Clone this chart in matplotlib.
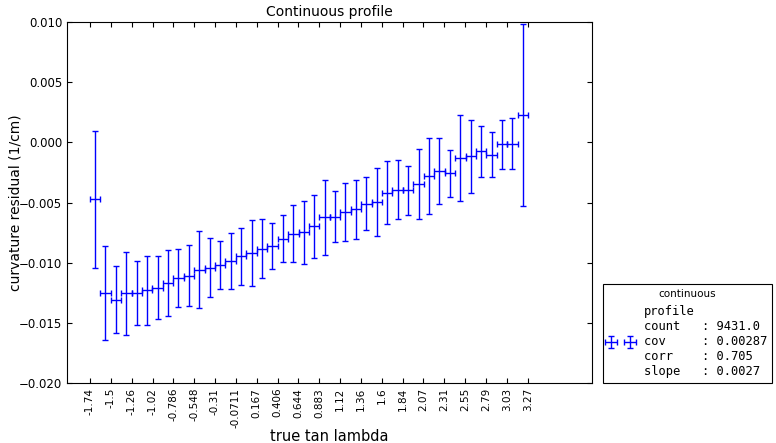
"""Continuous profile of curvature residual versus true tan lambda."""

import matplotlib
matplotlib.use("Agg")
import matplotlib.pyplot as plt
import numpy as np

# bin edges shown as tick labels (every other edge of 42 bins)
tick_labels = ["-1.74", "-1.5", "-1.26", "-1.02", "-0.786", "-0.548", "-0.31",
               "-0.0711", "0.167", "0.406", "0.644", "0.883", "1.12", "1.36",
               "1.6", "1.84", "2.07", "2.31", "2.55", "2.79", "3.03", "3.27"]
n_bins = 42

# profile means per bin (1/cm)
residual_mean = [-0.00475, -0.01251, -0.01307, -0.01255, -0.01251, -0.01230,
                 -0.01207, -0.01168, -0.01130, -0.01107, -0.01058, -0.01041,
                 -0.01018, -0.00988, -0.00947, -0.00916, -0.00885, -0.00864,
                 -0.00800, -0.00758, -0.00747, -0.00697, -0.00622, -0.00617,
                 -0.00577, -0.00558, -0.00511, -0.00494, -0.00417, -0.00394,
                 -0.00400, -0.00344, -0.00281, -0.00240, -0.00259, -0.00132,
                 -0.00117, -0.00076, -0.00103, -0.00015, -0.00010, 0.00226]

# profile spread per bin (1/cm)
residual_err = [0.00570, 0.00392, 0.00278, 0.00346, 0.00264, 0.00287,
                0.00262, 0.00275, 0.00240, 0.00253, 0.00322, 0.00242,
                0.00197, 0.00233, 0.00237, 0.00274, 0.00244, 0.00192,
                0.00193, 0.00239, 0.00262, 0.00261, 0.00312, 0.00215,
                0.00240, 0.00249, 0.00219, 0.00283, 0.00261, 0.00245,
                0.00202, 0.00289, 0.00316, 0.00272, 0.00193, 0.00356,
                0.00302, 0.00213, 0.00189, 0.00203, 0.00211, 0.00756]

yticks = [-0.020, -0.015, -0.010, -0.005, 0.000, 0.005, 0.010]
ytick_labels = ["\u22120.020", "\u22120.015", "\u22120.010", "\u22120.005",
                "0.000", "0.005", "0.010"]

legend_title = "continuous"
legend_label = ("profile\n"
                "count   : 9431.0\n"
                "cov     : 0.00287\n"
                "corr    : 0.705\n"
                "slope   : 0.0027")

plt.rcParams["xtick.direction"] = "in"
plt.rcParams["ytick.direction"] = "in"
plt.rcParams["xtick.top"] = True
plt.rcParams["ytick.right"] = True

tick_pos = [float(t) for t in tick_labels]
edges = np.linspace(tick_pos[0], tick_pos[-1], n_bins + 1)
centers = 0.5 * (edges[:-1] + edges[1:])
half_width = 0.5 * (edges[1] - edges[0])

fig = plt.figure(figsize=(7.76, 4.43), dpi=100)
ax = fig.add_axes([67 / 776, 60 / 443, 525 / 776, 361 / 443])

ax.errorbar(centers, residual_mean, xerr=half_width, yerr=residual_err,
            fmt="none", ecolor="blue", elinewidth=1, capsize=2.5,
            capthick=1, label=legend_label)

ax.set_xlim(-2.0, 4.0)
ax.set_ylim(-0.020, 0.010)
ax.set_yticks(yticks)
ax.set_yticklabels(ytick_labels)
ax.set_xticks(tick_pos)
ax.set_xticklabels(tick_labels, rotation=90, fontsize=7.5)
ax.tick_params(axis="y", labelsize=8.5)

ax.set_title("Continuous profile", fontsize=10, pad=4)
ax.set_xlabel("true tan lambda", fontsize=10.5)
ax.xaxis.set_label_coords(0.5, -0.128)
ax.set_ylabel("curvature residual (1/cm)", fontsize=10)
ax.yaxis.set_label_coords(-0.084, 0.5)

leg = ax.legend(loc="lower left", bbox_to_anchor=(1.02, 0.0), borderaxespad=0,
                numpoints=2, title=legend_title, fancybox=False,
                edgecolor="black", framealpha=1,
                prop={"family": "DejaVu Sans Mono", "size": 8.7},
                title_fontsize=7.5, handlelength=2.2)
leg.get_frame().set_linewidth(0.8)

fig.savefig("out.png", dpi=100)
